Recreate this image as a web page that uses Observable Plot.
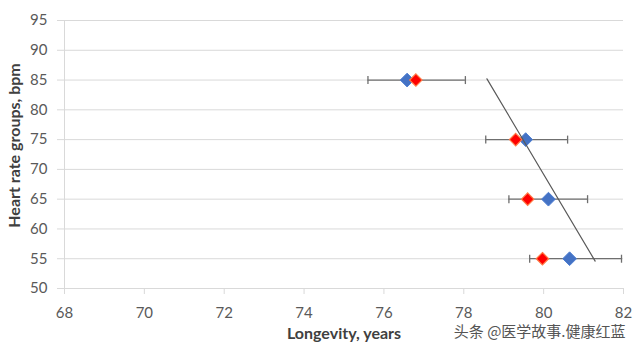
<!DOCTYPE html>
<html><head><meta charset="utf-8">
<script src="https://cdn.jsdelivr.net/npm/d3@7"></script>
<script src="https://cdn.jsdelivr.net/npm/@observablehq/plot@0.6"></script>
<style>body{margin:0;background:#fff;} svg{overflow:visible}</style>
</head><body><div id="chart"></div>
<script>
const heartRate = [85, 75, 65, 55];
const longevityBlue = [76.58, 79.55, 80.12, 80.65];
const longevityRed = [76.8, 79.3, 79.6, 79.97];
const errLow = [75.6, 78.55, 79.13, 79.65];
const errHigh = [78.04, 80.6, 81.1, 81.95];
const trendX = [78.58, 81.29];
const trendY = [85.2, 54.6];
const xTicks = [68, 70, 72, 74, 76, 78, 80, 82];
const yTicks = [50, 55, 60, 65, 70, 75, 80, 85, 90, 95];
const xTitle = "Longevity, years";
const yTitle = "Heart rate groups, bpm";
const watermark = "头条 @医学故事.健康红蓝";

const rows = heartRate.map((h, i) => ({h, blue: longevityBlue[i], red: longevityRed[i], lo: errLow[i], hi: errHigh[i]}));
const trend = trendX.map((x, i) => ({x, y: trendY[i]}));
const whiskers = rows.flatMap(d => [{x: d.lo, h: d.h}, {x: d.hi, h: d.h}]);
const vbar = {draw(ctx) { ctx.moveTo(0, -4); ctx.lineTo(0, 4); }};

const font = "Lato, 'Open Sans', sans-serif";
const chart = Plot.plot({
  width: 640, height: 355,
  marginLeft: 64, marginRight: 17, marginTop: 20, marginBottom: 67,
  style: {fontFamily: font, fontSize: "15px", color: "#595959", background: "#fff"},
  x: {domain: [68, 82], ticks: xTicks, tickSize: 6, tickPadding: 13, label: null},
  y: {domain: [50, 95], ticks: yTicks, tickSize: 7, tickPadding: 10, label: null},
  marks: [
    Plot.ruleY(yTicks, {stroke: "#d9d9d9", strokeWidth: 1}),
    Plot.ruleX([68], {stroke: "#d9d9d9", strokeWidth: 1}),
    Plot.ruleY(rows, {y: "h", x1: "lo", x2: "hi", stroke: "#6f6f6f", strokeWidth: 1.3}),
    Plot.dot(whiskers, {x: "x", y: "h", symbol: vbar, stroke: "#6f6f6f", strokeWidth: 1.3, r: 4}),
    Plot.dot(rows, {x: "blue", y: "h", symbol: "diamond2", r: 6.2, fill: "#4472c4", stroke: "#4f7fd2", strokeWidth: 1}),
    Plot.dot(rows, {x: "red", y: "h", symbol: "diamond2", r: 5.6, fill: "#ff0000", stroke: "#ff7a45", strokeWidth: 1.2}),
    Plot.line(trend, {x: "x", y: "y", stroke: "#595959", strokeWidth: 1.2}),
    Plot.text([xTitle], {frameAnchor: "bottom", dy: 50, fontSize: 16, fill: "#404040", fontWeight: "bold"}),
    Plot.text([yTitle], {frameAnchor: "left", textAnchor: "middle", dx: -50, dy: -9, rotate: -90, fontSize: 16, fill: "#404040", fontWeight: "bold"}),
    Plot.text([watermark], {frameAnchor: "bottom-right", dx: 2, dy: 48, textAnchor: "end", fontSize: 15, fill: "#555", fontFamily: "'Noto Sans CJK SC', sans-serif"})
  ]
});
chart.querySelectorAll("g[aria-label='x-axis tick'], g[aria-label='y-axis tick']").forEach(g => g.setAttribute("stroke", "#d9d9d9"));
document.getElementById("chart").append(chart);
</script>
</body></html>
